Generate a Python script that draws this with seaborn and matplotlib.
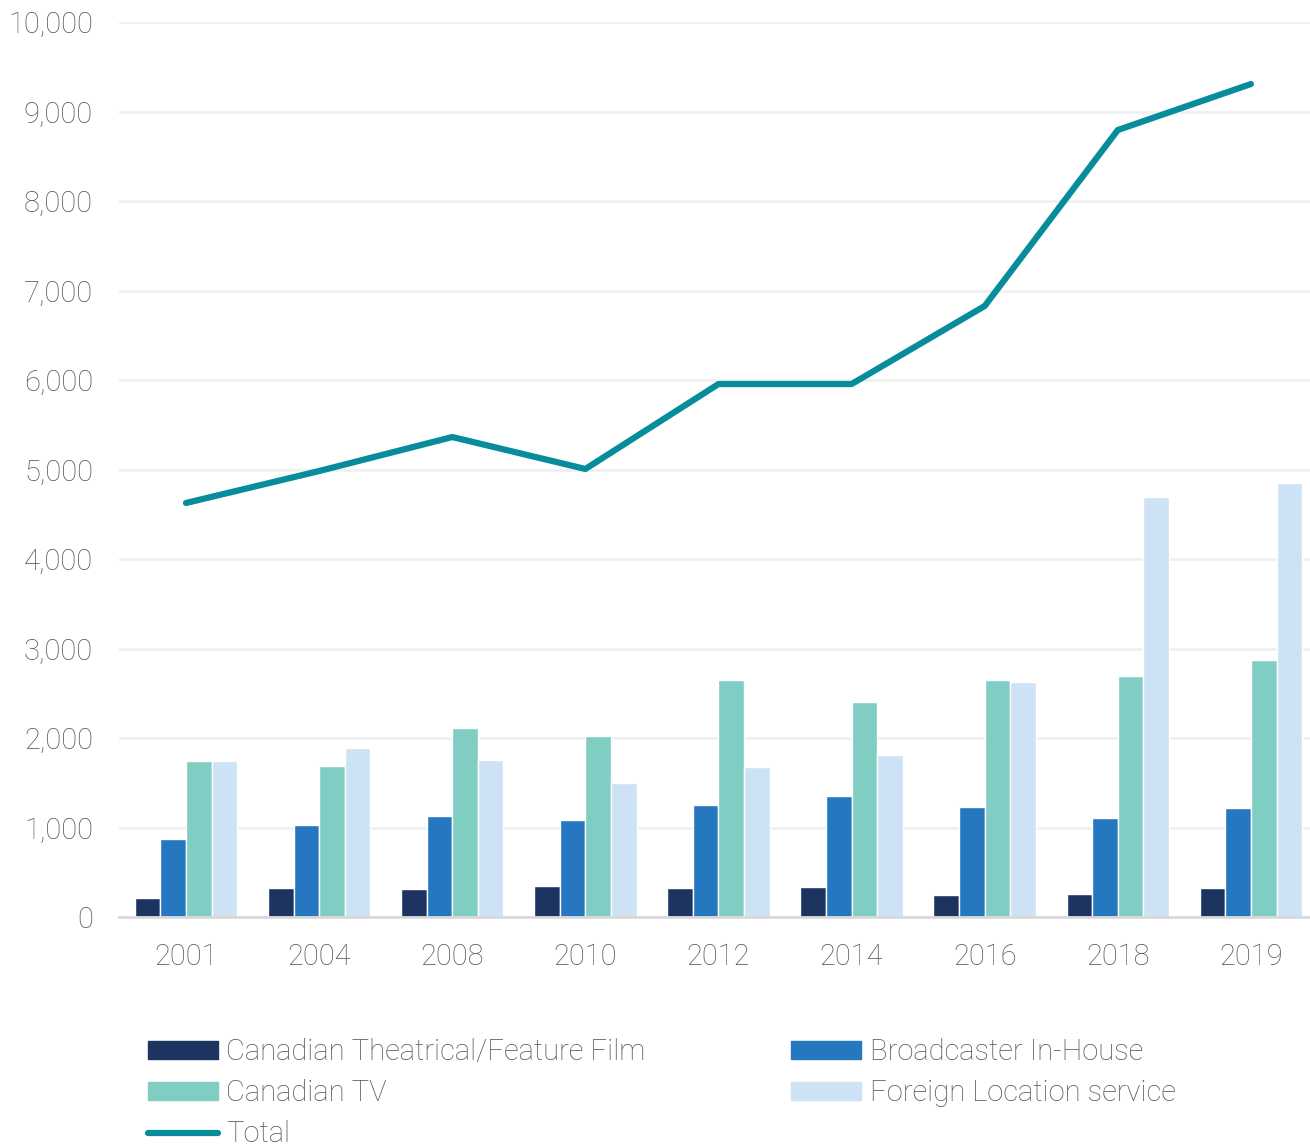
import matplotlib
matplotlib.use("Agg")
import matplotlib.pyplot as plt
import numpy as np
import pandas as pd
import seaborn as sns
from matplotlib.lines import Line2D
from matplotlib.patches import Patch
from matplotlib.ticker import FuncFormatter

years = ["2001", "2004", "2008", "2010", "2012", "2014", "2016", "2018", "2019"]
theatrical = [212, 324, 313, 346, 324, 335, 246, 257, 324]
broadcaster = [872, 1028, 1128, 1084, 1251, 1352, 1229, 1106, 1218]
canadian_tv = [1743, 1687, 2112, 2022, 2648, 2402, 2648, 2693, 2872]
foreign = [1743, 1888, 1754, 1497, 1676, 1810, 2626, 4693, 4849]
total = [4626, 4983, 5363, 5006, 5955, 5955, 6827, 8793, 9307]

series_names = [
    "Canadian Theatrical/Feature Film",
    "Broadcaster In-House",
    "Canadian TV",
    "Foreign Location service",
]
series_colors = ["#1d3461", "#2577bf", "#7fcdc3", "#cde2f5"]
line_color = "#078c9b"
text_color = "#555555"

sns.set_theme(style="white")
plt.rcParams["font.family"] = ["Roboto", "DejaVu Sans"]
plt.rcParams["font.weight"] = "light"

frame = pd.DataFrame({
    "year": years * 4,
    "value": theatrical + broadcaster + canadian_tv + foreign,
    "series": [name for name in series_names for _ in years],
})

fig = plt.figure(figsize=(13.1, 11.46), dpi=100)
ax = fig.add_axes([0.0912, 0.1998, 0.9145, 0.781])

sns.barplot(
    data=frame,
    x="year",
    y="value",
    hue="series",
    hue_order=series_names,
    palette=series_colors,
    saturation=1,
    width=0.77,
    legend=False,
    ax=ax,
)
sns.lineplot(
    x=np.arange(len(years)),
    y=total,
    color=line_color,
    linewidth=4.5,
    ax=ax,
)

ax.set_xlim(-0.5, 8.5)
ax.set_ylim(0, 10000)
ax.set_yticks(np.arange(0, 10001, 1000))
ax.yaxis.set_major_formatter(FuncFormatter(lambda v, _: f"{int(v):,}"))
ax.grid(axis="y", color="#f0f0f0", linewidth=2)
ax.set_axisbelow(True)
ax.set_xlabel("")
ax.set_ylabel("")
for side in ["top", "right", "left"]:
    ax.spines[side].set_visible(False)
ax.spines["bottom"].set_color("#d9d9d9")
ax.spines["bottom"].set_linewidth(2)
ax.tick_params(axis="both", length=0, labelsize=21, labelcolor=text_color)
ax.tick_params(axis="y", pad=19)
ax.tick_params(axis="x", pad=19)

handles = [
    Patch(color=series_colors[0], label=series_names[0]),
    Patch(color=series_colors[2], label=series_names[2]),
    Line2D([0], [0], color=line_color, linewidth=4.5, solid_capstyle="round", label="Total"),
    Patch(color=series_colors[1], label=series_names[1]),
    Patch(color=series_colors[3], label=series_names[3]),
]
legend = fig.legend(
    handles=handles,
    loc="upper left",
    bbox_to_anchor=(0.113, 0.0942),
    ncol=2,
    frameon=False,
    fontsize=21,
    handlelength=2.4,
    handleheight=0.55,
    handletextpad=0.28,
    labelspacing=0.45,
    columnspacing=5.0,
    borderaxespad=0,
    borderpad=0,
)
for text in legend.get_texts():
    text.set_color(text_color)

fig.savefig("out.png", dpi=100)
